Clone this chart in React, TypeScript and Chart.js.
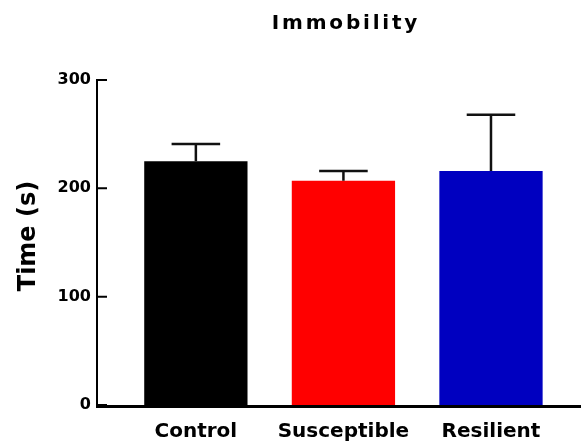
import React, { useEffect, useRef } from 'react';
import { Chart, registerables } from 'chart.js';

Chart.register(...registerables);

const categories = ['Control', 'Susceptible', 'Resilient'];
const meanValues = [225, 207, 216];
const errorValues = [16, 9, 52];
const barColors = ['#000000', '#ff0000', '#0000c0'];
const yTicks = [0, 100, 200, 300];
const chartTitle = 'Immobility';
const yAxisTitle = 'Time (s)';

const FONT = '"DejaVu Sans", Verdana, sans-serif';

export default function App() {
  const ref = useRef<HTMLCanvasElement>(null);

  useEffect(() => {
    const canvas = ref.current;
    if (!canvas) return;
    const positions = categories.map((_, i) => i + 1);
    const points = meanValues.map((v, i) => ({ x: positions[i], y: v }));

    const decor = {
      id: 'decor',
      afterDatasetsDraw(chart: any) {
        const ctx = chart.ctx as CanvasRenderingContext2D;
        const ys = chart.scales.y;
        const area = chart.chartArea;
        const meta = chart.getDatasetMeta(0);
        ctx.save();
        // error bars (upper only)
        ctx.strokeStyle = '#111111';
        ctx.lineWidth = 2.5;
        ctx.lineCap = 'butt';
        meta.data.forEach((el: any, i: number) => {
          const top = ys.getPixelForValue(meanValues[i] + errorValues[i]);
          const half = el.width * 0.235;
          ctx.beginPath();
          ctx.moveTo(el.x, el.y);
          ctx.lineTo(el.x, top);
          ctx.moveTo(el.x - half, top);
          ctx.lineTo(el.x + half, top);
          ctx.stroke();
        });
        // axes
        const left = area.left;
        const y0 = ys.getPixelForValue(0);
        const yMax = ys.getPixelForValue(yTicks[yTicks.length - 1]);
        ctx.strokeStyle = '#000000';
        ctx.lineWidth = 2;
        ctx.beginPath();
        ctx.moveTo(left, yMax - 1);
        ctx.lineTo(left, y0 + 1);
        yTicks.forEach((t) => {
          const py = ys.getPixelForValue(t);
          ctx.moveTo(left - 1, py);
          ctx.lineTo(left + 10, py);
        });
        ctx.stroke();
        ctx.lineWidth = 3;
        ctx.beginPath();
        ctx.moveTo(left - 1, y0 + 1.5);
        ctx.lineTo(area.right, y0 + 1.5);
        ctx.stroke();

        // chart title
        ctx.fillStyle = '#000000';
        ctx.font = `bold 20px ${FONT}`;
        (ctx as any).letterSpacing = '2.8px';
        ctx.textAlign = 'center';
        ctx.textBaseline = 'alphabetic';
        ctx.fillText(chartTitle, 346, 29);
        (ctx as any).letterSpacing = '0px';

        // y axis title
        ctx.save();
        ctx.translate(35, 236);
        ctx.rotate(-Math.PI / 2);
        ctx.font = `bold 24px ${FONT}`;
        ctx.textAlign = 'center';
        ctx.textBaseline = 'alphabetic';
        ctx.fillText(yAxisTitle, 0, 0);
        ctx.restore();

        ctx.restore();
      },
    };

    const chart = new Chart(canvas, {
      type: 'bar',
      data: {
        datasets: [
          {
            data: points as any,
            backgroundColor: barColors,
            borderWidth: 0,
            barPercentage: 0.7,
            categoryPercentage: 1,
          },
        ],
      },
      options: {
        responsive: false,
        animation: false,
        devicePixelRatio: 1,
        layout: { padding: { top: 80, left: 0, right: 0, bottom: 0 } },
        plugins: {
          legend: { display: false },
          tooltip: { enabled: false },
          title: { display: false },
        },
        scales: {
          x: {
            type: 'linear',
            offset: false,
            min: 0.33,
            max: 3.61,
            afterBuildTicks: (s: any) => {
              s.ticks = positions.map((v) => ({ value: v }));
            },
            afterFit: (s: any) => {
              s.height = 40;
            },
            ticks: {
              autoSkip: false,
              maxRotation: 0,
              padding: 15,
              color: '#000000',
              font: { family: FONT, size: 20, weight: 'bold' },
              callback: (v: any) => categories[Math.round(Number(v)) - 1] ?? '',
            },
            grid: { display: false, drawTicks: false, offset: false },
            border: { display: false },
          },
          y: {
            type: 'linear',
            min: 0,
            max: 300,
            afterBuildTicks: (s: any) => {
              s.ticks = yTicks.map((v) => ({ value: v }));
            },
            afterFit: (s: any) => {
              s.width = 97;
            },
            ticks: {
              padding: 6,
              color: '#000000',
              font: { family: FONT, size: 16, weight: 'bold' },
            },
            grid: { display: false, drawTicks: false },
            border: { display: false },
          },
        },
      } as any,
      plugins: [decor],
    });

    return () => chart.destroy();
  }, []);

  return (
    <div style={{ position: 'fixed', left: 0, top: 0, width: 581, height: 445, background: '#ffffff' }}>
      <canvas ref={ref} width={581} height={445} style={{ width: 581, height: 445, display: 'block' }} />
    </div>
  );
}
